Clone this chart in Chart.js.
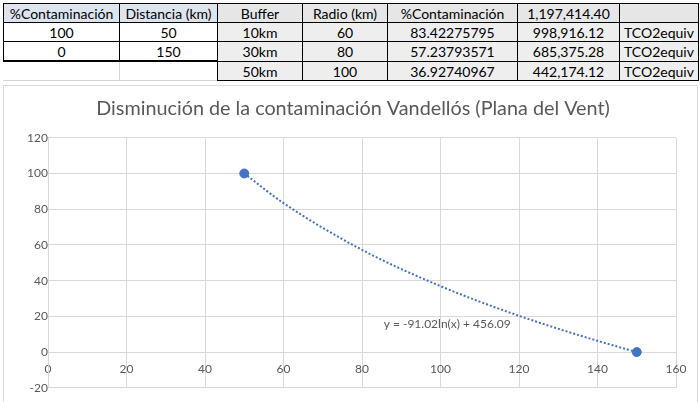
<!DOCTYPE html>
<html>
<head>
<meta charset="utf-8">
<script src="https://cdn.jsdelivr.net/npm/chart.js@4.4.1/dist/chart.umd.min.js"></script>
<style>
    body { margin: 0; background: #fff; font-family: Lato, "Open Sans", sans-serif; }
    #hoja { position: relative; width: 700px; height: 402px; overflow: hidden; background: #fff; }
    .celda { position: absolute; box-sizing: border-box; font-size: 14px; color: #000;
             display: flex; align-items: center; justify-content: center; white-space: nowrap; }
    #marco { position: absolute; left: 3px; top: 85px; width: 695px; height: 330px;
             box-sizing: border-box; border: 1px solid #d9d9d9; background: #fff; }
    #chartContaminacion { position: absolute; left: 0; top: 0; }
</style>
</head>
<body>
<div id="hoja">
    <div id="marco"><canvas id="chartContaminacion" width="694" height="321"></canvas></div>
</div>
<script>
// tabla izquierda (puntos del grafico)
let contaminacion = [100, 0];
let distancia = [50, 150];

// tabla de buffers
let buffers = ['10km', '30km', '50km'];
let radios = [60, 80, 100];
let pctBuffer = [83.42275795, 57.23793571, 36.92740967];
let toneladas = [998916.12, 685375.28, 442174.12];
let totalToneladas = 1197414.40;
let unidad = 'TCO2equiv';

// linea de tendencia (y = -91.02ln(x) + 456.09)
let tendenciaX = [50, 60, 80, 100, 120, 140, 150];
let tendenciaY = [100, 83.42, 57.24, 36.93, 20.3, 6.3, 0];

let ticksY = [-20, 0, 20, 40, 60, 80, 100, 120];
let ticksX = [0, 20, 40, 60, 80, 100, 120, 140, 160];

let titulo = 'Disminución de la contaminación Vandellós (Plana del Vent)';
let ecuacion = 'y = -91.02ln(x) + 456.09';
let posEcuacion = {x: 101.7, y: 15.7};

let azul = '#4472C4';
let gris = '#595959';
let rejilla = '#d9d9d9';

function fmtMiles(n){
    return n.toLocaleString('en-US', {minimumFractionDigits: 2, maximumFractionDigits: 2});
}

$ = function(id){ return document.getElementById(id); };

function celda(x1, x2, y1, y2, texto, estilo){
    var d = document.createElement('div');
    d.className = 'celda';
    d.style.left = x1 + 'px';
    d.style.top = y1 + 'px';
    d.style.width = (x2 - x1 + 1) + 'px';
    d.style.height = (y2 - y1 + 1) + 'px';
    d.textContent = texto;
    for (var k in estilo) d.style[k] = estilo[k];
    $('hoja').appendChild(d);
}

function mostrar_tabla(){
    var cols = [3, 119, 217, 302, 387, 517, 619, 698];
    var filas = [3, 22, 41, 61, 80];
    var negro = '1px solid #000';

    // celdas vacias de la hoja
    celda(cols[0], cols[1], filas[3], filas[4], '', {borderRight: '1px solid #d4d4d4', borderBottom: '1px solid #d4d4d4'});
    celda(cols[1], cols[2], filas[3], filas[4], '', {borderBottom: '1px solid #d4d4d4'});

    // tabla izquierda
    var cab = ['%Contaminación', 'Distancia (km)'];
    for (var c = 0; c < 2; c++) {
        celda(cols[c], cols[c+1], filas[0], filas[1], cab[c], {background: '#dde4ee', border: negro});
    }
    for (var i = 0; i < contaminacion.length; i++) {
        var bb = (i == contaminacion.length - 1) ? '2px solid #000' : negro;
        celda(cols[0], cols[1], filas[i+1], filas[i+2], contaminacion[i], {border: negro, borderBottom: bb});
        celda(cols[1], cols[2], filas[i+1], filas[i+2], distancia[i], {border: negro, borderBottom: bb});
    }

    // tabla derecha
    var cab2 = ['Buffer', 'Radio (km)', '%Contaminación', fmtMiles(totalToneladas), ''];
    for (var c = 0; c < 5; c++) {
        celda(cols[c+2], cols[c+3], filas[0], filas[1], cab2[c], {background: '#e6e6e6', border: negro});
    }
    for (var i = 0; i < buffers.length; i++) {
        var fila = [buffers[i], radios[i], pctBuffer[i].toFixed(8), fmtMiles(toneladas[i]), unidad];
        for (var c = 0; c < 5; c++) {
            celda(cols[c+2], cols[c+3], filas[i+1], filas[i+2], fila[c], {background: '#eeeeee', border: negro});
        }
    }
}

var etiquetaTendencia = {
    id: 'etiquetaTendencia',
    afterDatasetsDraw: function(chart){
        var ctx = chart.ctx;
        var px = chart.scales.x.getPixelForValue(posEcuacion.x);
        var py = chart.scales.y.getPixelForValue(posEcuacion.y);
        ctx.save();
        ctx.font = '12px Lato';
        ctx.fillStyle = gris;
        ctx.textAlign = 'center';
        ctx.textBaseline = 'middle';
        ctx.fillText(ecuacion, px, py);
        ctx.restore();
    }
};

function mostrar_grafico(){
    var puntos = distancia.map(function(d, i){ return {x: d, y: contaminacion[i]}; });
    var tendencia = tendenciaX.map(function(d, i){ return {x: d, y: tendenciaY[i]}; });

    new Chart($('chartContaminacion'), {
        type: 'scatter',
        data: {
            datasets: [
                {
                    data: puntos,
                    backgroundColor: azul,
                    borderColor: azul,
                    pointRadius: 4.5,
                    showLine: false
                },
                {
                    data: tendencia,
                    showLine: true,
                    pointRadius: 0,
                    borderColor: azul,
                    borderWidth: 2,
                    borderDash: [2, 2],
                    cubicInterpolationMode: 'monotone',
                    fill: false
                }
            ]
        },
        options: {
            responsive: false,
            animation: false,
            layout: { padding: {left: 26, right: 22, top: 0, bottom: 10} },
            plugins: {
                legend: { display: false },
                tooltip: { enabled: false },
                title: {
                    display: true,
                    text: titulo,
                    color: gris,
                    font: { family: 'Lato', size: 19.8, weight: 'normal' },
                    padding: { top: 11, bottom: 17 }
                }
            },
            scales: {
                x: {
                    type: 'linear',
                    position: {y: 0},
                    min: ticksX[0],
                    max: ticksX[ticksX.length - 1],
                    afterBuildTicks: function(s){ s.ticks = ticksX.map(function(v){ return {value: v}; }); },
                    ticks: { color: gris, font: { family: 'Lato', size: 12 }, padding: 10 },
                    grid: { color: rejilla, drawTicks: false },
                    border: { color: rejilla }
                },
                y: {
                    type: 'linear',
                    position: {x: 0},
                    min: ticksY[0],
                    max: ticksY[ticksY.length - 1],
                    afterBuildTicks: function(s){ s.ticks = ticksY.map(function(v){ return {value: v}; }); },
                    ticks: { color: gris, font: { family: 'Lato', size: 12 }, padding: 12 },
                    grid: { color: rejilla, drawTicks: false },
                    border: { color: rejilla }
                },
                // hueco a la izquierda para las etiquetas del eje y
                margen: {
                    type: 'linear',
                    axis: 'y',
                    position: 'left',
                    afterFit: function(s){ s.width = 18; },
                    ticks: { display: false },
                    grid: { display: false },
                    border: { display: false }
                }
            }
        },
        plugins: [etiquetaTendencia]
    });
}

mostrar_tabla();
mostrar_grafico();
</script>
</body>
</html>
